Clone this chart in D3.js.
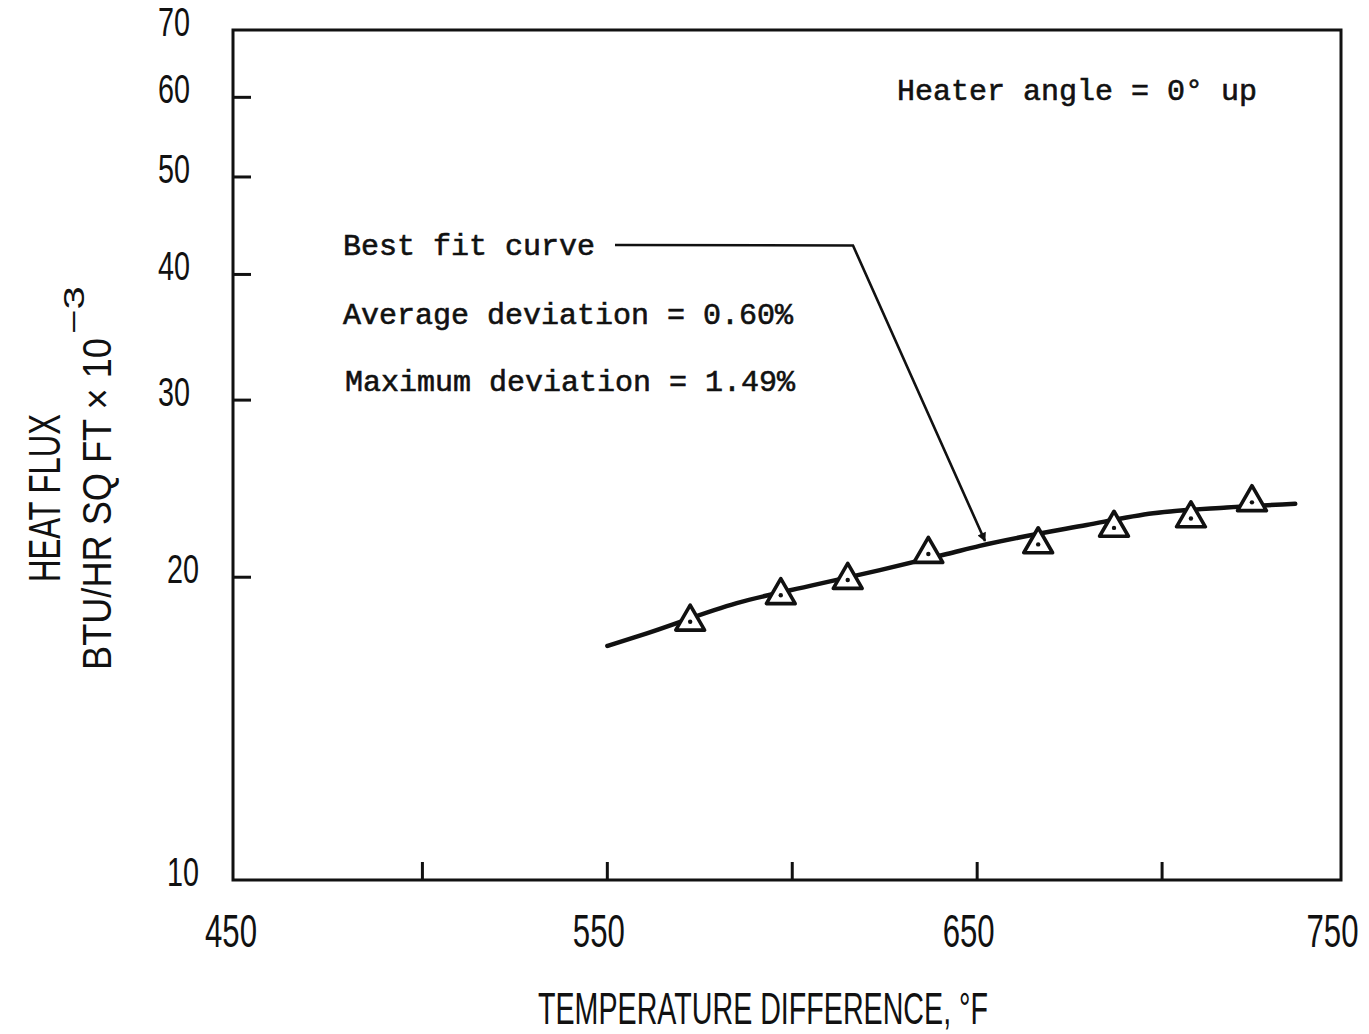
<!DOCTYPE html>
<html>
<head>
<meta charset="utf-8">
<script src="https://cdn.jsdelivr.net/npm/d3@7"></script>
<style>
  html, body { margin: 0; padding: 0; background: #fff; }
  svg { display: block; }
</style>
</head>
<body>
<script>
// ---- data ----
const pointTemps = [572.4, 596.9, 615.0, 636.8, 666.5, 687.0, 707.8, 724.3];
const pointFlux  = [18.06, 19.19, 19.87, 21.09, 21.56, 22.39, 22.88, 23.74];
const curveTemps = [550, 560.7, 585.0, 605.7, 623.7, 641.8, 650.7, 679.6, 697.6, 717.5, 736.0];
const curveFlux  = [17.09, 17.59, 18.85, 19.64, 20.33, 21.09, 21.49, 22.54, 23.15, 23.46, 23.66];
const xTicks = [450, 500, 550, 600, 650, 700, 750];
const xTickLabels = ["450", "", "550", "", "650", "", "750"];
const yTicks = [10, 20, 30, 40, 50, 60, 70];
const yTickLabels = ["10", "20", "30", "40", "50", "60", "70"];
const notes = ["Best fit curve", "Average deviation = 0.60%", "Maximum deviation = 1.49%"];
const headerNote = "Heater angle = 0\u00B0 up";

const W = 1369, H = 1034;
const svg = d3.select("body").append("svg").attr("width", W).attr("height", H);

const x = d3.scaleLinear().domain([450, 750]).range([237.5, 1347]);
const y = d3.scaleLog().domain([10, 70]).range([880, 30]);

const ink = "#111";
const frame = { left: 233, right: 1341, top: 30, bottom: 880 };

// frame
svg.append("path")
  .attr("d", `M${frame.left},${frame.top}H${frame.right}V${frame.bottom}H${frame.left}Z`)
  .attr("fill", "none").attr("stroke", ink).attr("stroke-width", 3);

// x ticks (inside, bottom)
svg.append("g").selectAll("line")
  .data(xTicks.filter(t => t > 450 && t < 750))
  .join("line")
  .attr("x1", d => x(d)).attr("x2", d => x(d))
  .attr("y1", frame.bottom).attr("y2", frame.bottom - 18)
  .attr("stroke", ink).attr("stroke-width", 3);

// y ticks (inside, left)
svg.append("g").selectAll("line")
  .data(yTicks.filter(t => t > 10 && t < 70))
  .join("line")
  .attr("x1", frame.left).attr("x2", frame.left + 18)
  .attr("y1", d => y(d)).attr("y2", d => y(d))
  .attr("stroke", ink).attr("stroke-width", 3);

const condensed = "'Liberation Sans', Arial, sans-serif";
const mono = "'Liberation Mono', 'Courier New', monospace";

// x tick labels
const xLabelOffsets = [-6, 0, -8, 0, -8, 0, -14];
svg.append("g").selectAll("text")
  .data(xTicks.map((t, i) => ({ t, label: xTickLabels[i], dx: xLabelOffsets[i] })).filter(d => d.label))
  .join("text")
  .attr("x", d => x(d.t) + d.dx - 26.5)
  .attr("y", 947)
  .attr("textLength", 52).attr("lengthAdjust", "spacingAndGlyphs")
  .attr("font-family", condensed).attr("font-size", 46)
  .attr("fill", ink)
  .text(d => d.label);

// y tick labels
svg.append("g").selectAll("text")
  .data(yTicks.map((t, i) => ({ t, label: yTickLabels[i] })))
  .join("text")
  .attr("x", d => (d.t === 10 || d.t === 20) ? 167 : 158)
  .attr("y", d => y(d.t) + 6)
  .attr("textLength", 32).attr("lengthAdjust", "spacingAndGlyphs")
  .attr("font-family", condensed).attr("font-size", 40)
  .attr("fill", ink)
  .text(d => d.label);

// axis titles
svg.append("text")
  .attr("x", 538).attr("y", 1024)
  .attr("textLength", 450).attr("lengthAdjust", "spacingAndGlyphs")
  .attr("font-family", condensed).attr("font-size", 44)
  .attr("fill", ink)
  .text("TEMPERATURE DIFFERENCE, \u00B0F");

svg.append("text")
  .attr("transform", "translate(60,582) rotate(-90)")
  .attr("textLength", 168).attr("lengthAdjust", "spacingAndGlyphs")
  .attr("font-family", condensed).attr("font-size", 44)
  .attr("fill", ink)
  .text("HEAT FLUX");

svg.append("text")
  .attr("transform", "translate(111,670) rotate(-90)")
  .attr("textLength", 332).attr("lengthAdjust", "spacingAndGlyphs")
  .attr("font-family", condensed).attr("font-size", 40)
  .attr("fill", ink)
  .text("BTU/HR SQ FT \u00D7 10");

svg.append("text")
  .attr("transform", "translate(84,334) rotate(-90)")
  .attr("textLength", 48).attr("lengthAdjust", "spacingAndGlyphs")
  .attr("font-family", condensed).attr("font-size", 30)
  .attr("fill", ink)
  .text("\u22123");

// best fit curve
const curveData = curveTemps.map((t, i) => [t, curveFlux[i]]);
svg.append("path")
  .datum(curveData)
  .attr("d", d3.line().x(d => x(d[0])).y(d => y(d[1])).curve(d3.curveMonotoneX))
  .attr("fill", "none").attr("stroke", ink).attr("stroke-width", 4.5)
  .attr("stroke-linecap", "round");

// data points: open triangles with centre dots
const pts = pointTemps.map((t, i) => ({ t, f: pointFlux[i] }));
const tri = d3.symbol(d3.symbolTriangle, 360);
const pg = svg.append("g").selectAll("g").data(pts).join("g")
  .attr("transform", d => `translate(${x(d.t)},${y(d.f)})`);
pg.append("path").attr("d", tri)
  .attr("fill", "#fff").attr("stroke", ink).attr("stroke-width", 3.6)
  .attr("stroke-linejoin", "round");
pg.append("circle").attr("r", 2.2).attr("fill", ink);

// annotations
svg.append("text")
  .attr("x", 897).attr("y", 100)
  .attr("font-family", mono).attr("font-size", 30).attr("fill", ink)
  .attr("stroke", ink).attr("stroke-width", 0.6)
  .text(headerNote);

const noteY = [255, 324, 391];
const noteX = [343, 343, 345];
svg.append("g").selectAll("text").data(notes).join("text")
  .attr("x", (d, i) => noteX[i]).attr("y", (d, i) => noteY[i])
  .attr("font-family", mono).attr("font-size", 30).attr("fill", ink)
  .attr("stroke", ink).attr("stroke-width", 0.6)
  .text(d => d);

// leader with arrow
svg.append("defs").append("marker")
  .attr("id", "arrow").attr("viewBox", "0 0 10 10")
  .attr("refX", 9).attr("refY", 5)
  .attr("markerWidth", 18).attr("markerHeight", 9)
  .attr("markerUnits", "userSpaceOnUse")
  .attr("orient", "auto")
  .append("path").attr("d", "M0,0L10,5L0,10Z").attr("fill", ink);

svg.append("polyline")
  .attr("points", "615,245 853,245.5 985,541")
  .attr("fill", "none").attr("stroke", ink).attr("stroke-width", 2.6)
  .attr("marker-end", "url(#arrow)");
</script>
</body>
</html>
